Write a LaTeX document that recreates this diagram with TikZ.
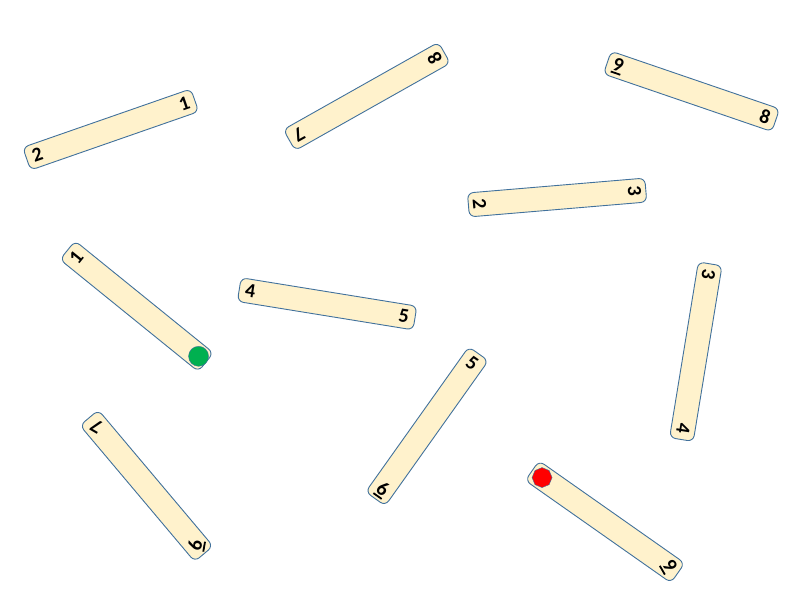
\documentclass[tikz,border=0pt]{standalone}
\usepackage{fontspec}
\setmainfont{Carlito}
\usepackage{xcolor}
\usetikzlibrary{calc,shapes.geometric}
\definecolor{stickfill}{HTML}{FFF2CC}
\definecolor{stickline}{HTML}{41719C}
\definecolor{startgreen}{HTML}{00B050}
\newcommand{\ulnum}[1]{\setbox0\hbox{#1}\vtop{\copy0\kern1.5pt\hrule height1.8pt width\wd0}}

\begin{document}
\begin{tikzpicture}[x=1pt, y=-1pt, font=\bfseries\fontsize{20}{24}\selectfont,
  stick/.style={draw=stickline, fill=stickfill, line width=0.9pt, rounded corners=6pt,
    minimum width=178pt, minimum height=24pt, inner sep=0pt},
  num/.style={inner sep=0pt}]
\useasboundingbox (0,0) rectangle (800,600);
% name / centre / angle / west label + turn / east label + turn
\foreach \n/\x/\y/\a/\l/\lr/\r/\rr in {
  s1/110.7/129.5/19.2/2/19/1/19,
  s2/366.8/96.4/29.4/7/209/8/119,
  s3/691.5/91.4/-18.9/{\ulnum{9}}/-19/8/-19,
  s4/557.1/197.5/4.8/2/-85/3/-85,
  s5/136.7/306.2/-39/1/51/{}/0,
  s6/327.1/303.8/-9.2/4/-9/5/-9,
  s7/427/426.3/54.6/{\ulnum{6}}/-35/5/-35,
  s8/695.8/351.7/80.7/4/-99/3/-99,
  s9/146.5/485.8/-49.9/7/150/{\ulnum{6}}/80,
  s10/605/521.8/-35.1/{}/0/{\ulnum{9}}/-60}{
  \node[stick, rotate=\a] (\n) at (\x,\y) {};
  \node[num, rotate=\lr] (\n-w) at ($(\n.center)!0.87!(\n.west)$) {\l};
  \node[num, rotate=\rr] (\n-e) at ($(\n.center)!0.87!(\n.east)$) {\r};
}
% start and goal marks
\node[circle, draw=stickline, fill=startgreen, minimum size=20pt, inner sep=0pt]
  (start) at ($(s5.center)!0.89!(s5.east)$) {};
\node[regular polygon, regular polygon sides=8, draw=stickline, fill=red,
  minimum size=20pt, inner sep=0pt, rotate=22.5] (goal) at ($(s10.center)!0.86!(s10.west)$) {};
\end{tikzpicture}
\end{document}
